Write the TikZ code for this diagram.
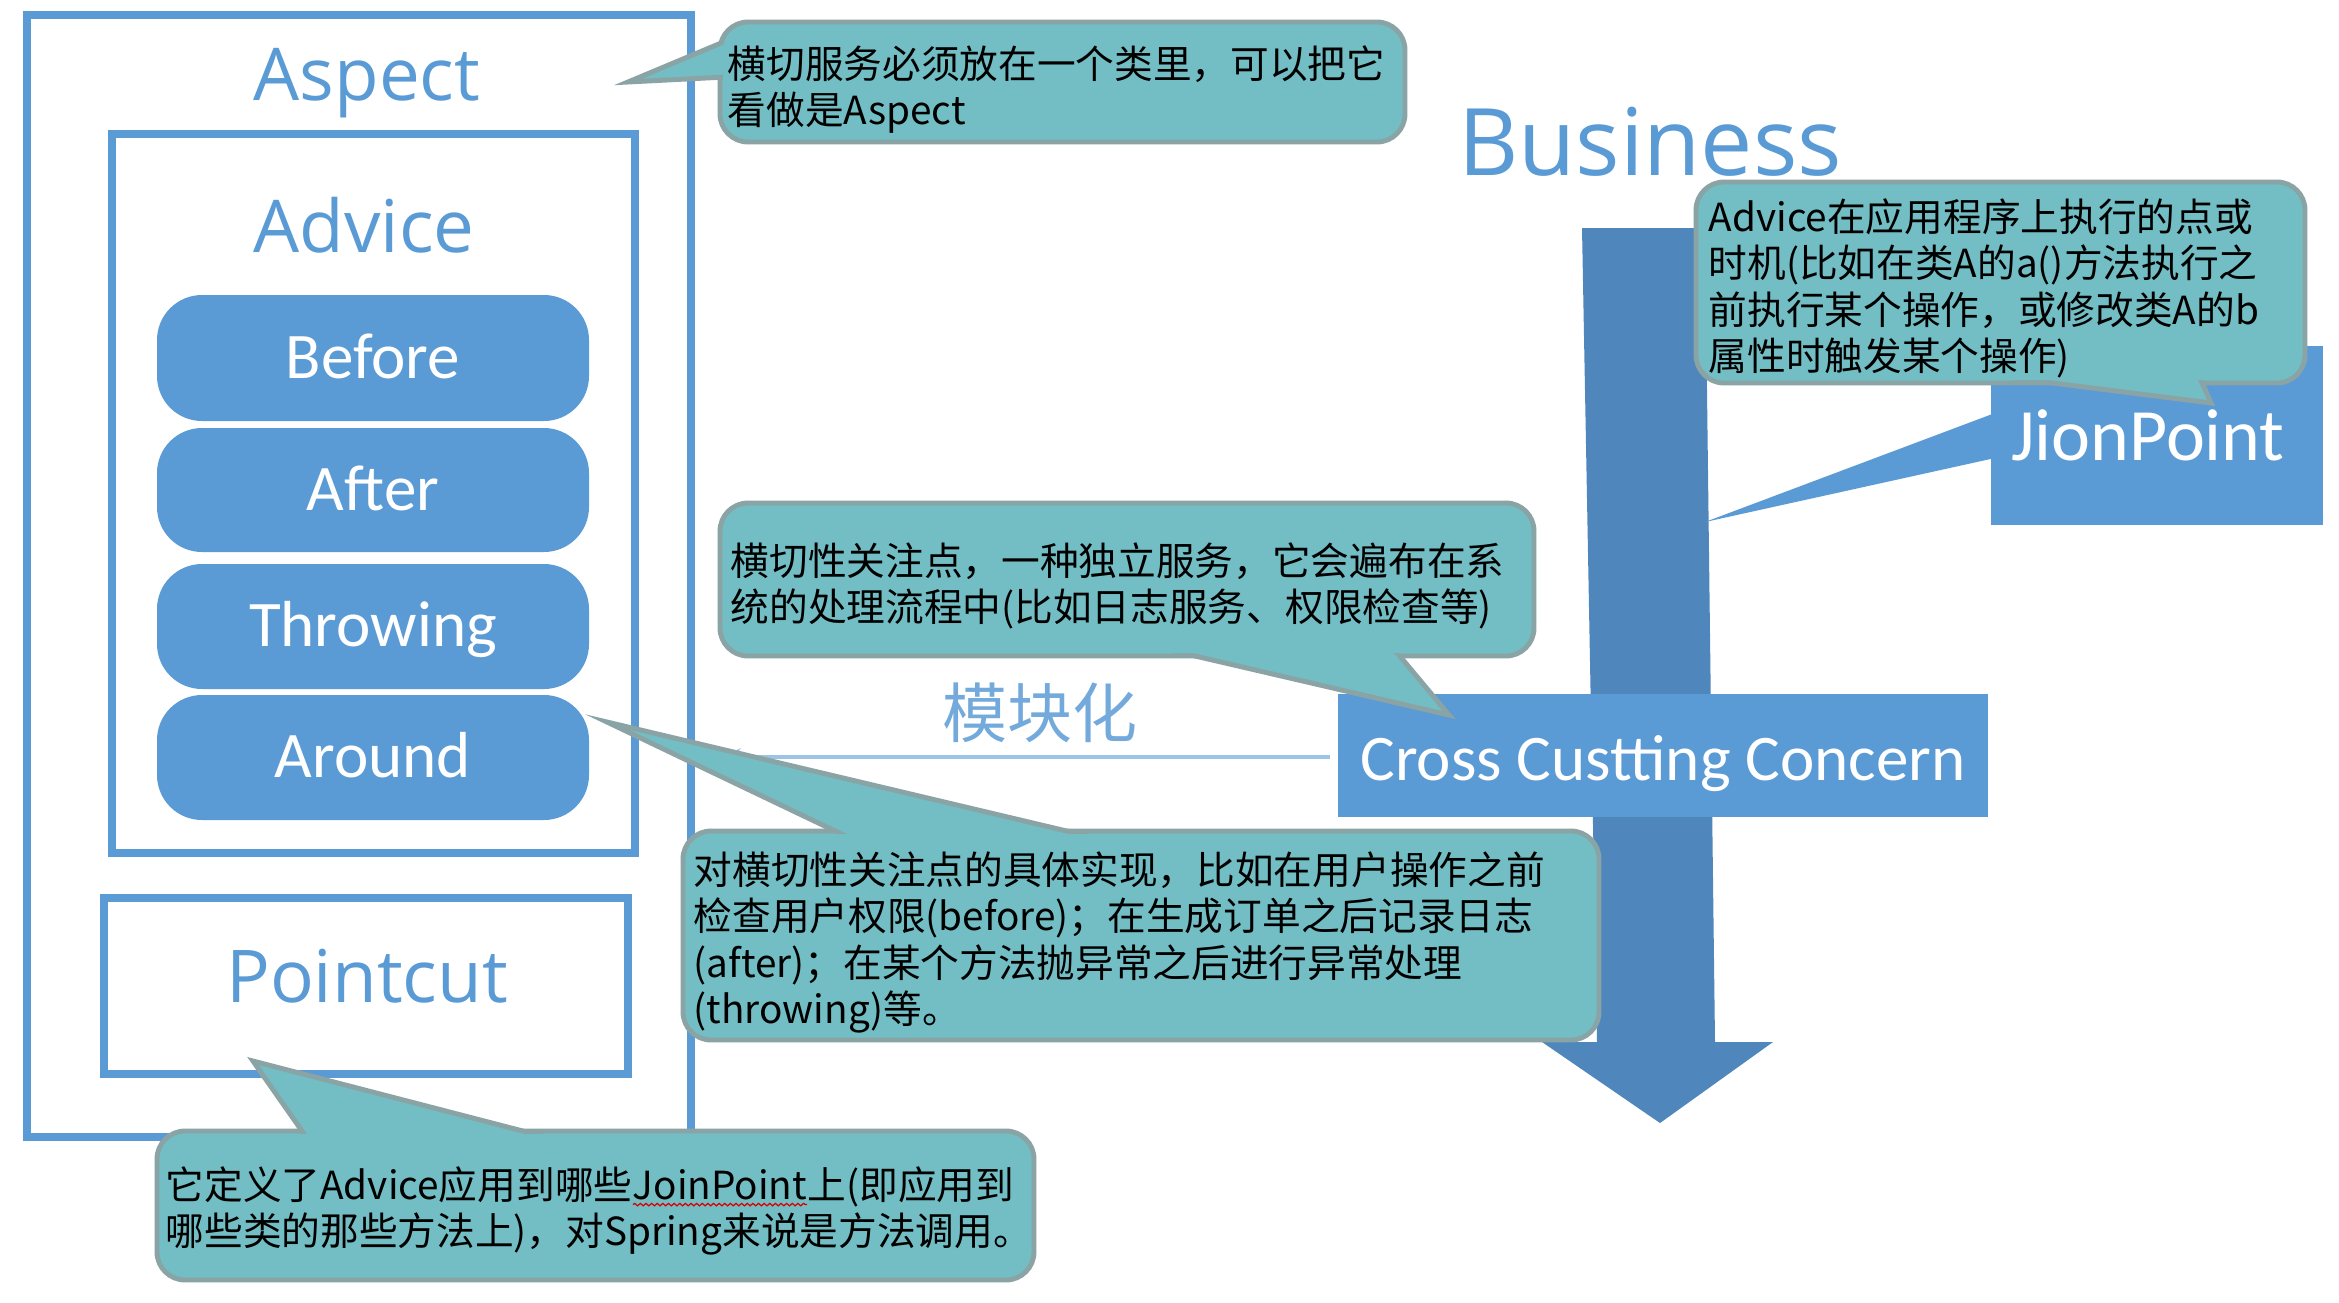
\documentclass[tikz,border=0pt]{standalone}
\usepackage{fontspec}
\setmainfont{Noto Sans CJK SC}
\newfontfamily\labfont{Carlito}
\newfontfamily\hdfont{Open Sans}
\usetikzlibrary{arrows.meta,decorations.pathmorphing}
\definecolor{bxblue}{RGB}{91,155,213}
\definecolor{arblue}{RGB}{79,135,189}
\definecolor{cofill}{RGB}{114,190,196}
\definecolor{codraw}{RGB}{138,164,166}
\definecolor{lnblue}{RGB}{157,195,230}
\newcommand\spellmark[1]{\tikz[baseline=(sw.base)]{\node[inner sep=0pt,outer sep=0pt](sw){#1};\draw[red!85!black,line width=0.35pt,decorate,decoration={snake,amplitude=0.35pt,segment length=1.6pt}]([yshift=-1.3pt]sw.south west)--([yshift=-1.3pt]sw.south east);}}
\begin{document}
\begin{tikzpicture}[x=0.01cm,y=-0.01cm,
  obox/.style={draw=bxblue, line width=2.3pt, fill=white},
  btn/.style={fill=bxblue, rounded corners=12.8pt},
  flatbox/.style={fill=bxblue},
  btntext/.style={text=white, font=\labfont\fontsize{18.5pt}{22pt}\selectfont, anchor=base, inner sep=0pt},
  hdtext/.style={text=bxblue, font=\hdfont\fontsize{20.7pt}{24pt}\selectfont, anchor=base, inner sep=0pt},
  cobody/.style={fill=cofill, draw=codraw, line width=1.4pt, rounded corners=8pt},
  coptr/.style={fill=cofill, draw=codraw, line width=1.4pt, line join=miter},
  cocover/.style={fill=cofill, rounded corners=7pt},
  cotext/.style={anchor=north west, inner sep=0pt, align=left, text=black, font=\fontsize{11pt}{13.2pt}\selectfont},
]
\fill[white] (0,0) rectangle (2339,1302);
\useasboundingbox (0,0) rectangle (2339,1302);

% ---------- Aspect column ----------
\path[obox] (27,15) rectangle (691,1137);
\node[hdtext] (aspect) at (367,100) {Aspect};
\path[obox] (112,134) rectangle (635,853);
\node[hdtext] (advice) at (364,252) {Advice};
\path[btn] (157,295) rectangle (589,421);
\node[btntext] (before) at (373,378) {Before};
\path[btn] (157,428) rectangle (589,552);
\node[btntext] (after) at (373,510) {After};
\path[btn] (157,564) rectangle (589,689);
\node[btntext] (throwing) at (373,646) {Throwing};
\path[btn] (157,695) rectangle (589,820);
\node[btntext] (around) at (373,777) {Around};
\path[obox] (104,898) rectangle (628,1074);
\node[hdtext] (pointcut) at (367,1002) {Pointcut};

% ---------- Business ----------
\node[hdtext, font=\hdfont\fontsize{26.5pt}{30pt}\selectfont] (business) at (1650,175) {Business};
\fill[arblue] (1582,228) -- (1705,228) -- (1715,1042) -- (1773,1042) -- (1660,1123) -- (1542,1042) -- (1597,1042) -- cycle;

\path[flatbox] (1338,694) rectangle (1988,817);
\node[btntext] (ccc) at (1663,780) {Cross Custting Concern};

\coordinate (jptip) at (1705,522);
\path[flatbox] (1991,346) rectangle (2323,525);
\fill[bxblue] (1995,413) -- (jptip) -- (1995,458) -- cycle;
\node[btntext, font=\labfont\fontsize{21pt}{25pt}\selectfont] (jp) at (2148,460) {JionPoint};

% ---------- modularisation line ----------
\coordinate (mleft) at (723,757);
\draw[lnblue, line width=1pt, -{Stealth[length=5pt,width=5pt]}] (ccc.west |- mleft) ++(-30,0) -- (mleft);
\node[font=\fontsize{18.5pt}{22pt}\selectfont, text=bxblue!85, inner sep=0pt] (mkh) at (1040,713) {模块化};

% ---------- callout 1 ----------
\path[cobody] (720,22) rectangle (1405,142);
\path[coptr] (745,33) -- (628,82) -- (745,76) -- cycle;
\path[cocover] (723,25) rectangle (1402,139);
\node[cotext] (t1) at (727,45) {横切服务必须放在一个类里，可以把它\\看做是Aspect};

% ---------- callout 2 ----------
\path[cobody] (1696,182) rectangle (2305,383);
\path[coptr] (1895,363) -- (2211,403) -- (2193,363) -- cycle;
\path[cocover] (1699,185) rectangle (2302,380);
\node[cotext] (t2) at (1708,198) {Advice在应用程序上执行的点或\\时机(比如在类A的a()方法执行之\\前执行某个操作，或修改类A的b\\属性时触发某个操作)};

% ---------- callout 3 ----------
\path[cobody] (720,503) rectangle (1534,656);
\path[coptr] (1109,636) -- (1449,715) -- (1383,636) -- cycle;
\path[cocover] (723,506) rectangle (1531,653);
\node[cotext] (t3) at (730,542) {横切性关注点，一种独立服务，它会遍布在系\\统的处理流程中(比如日志服务、权限检查等)};

% ---------- callout 4 ----------
\path[cobody] (683,831) rectangle (1599,1040);
\path[coptr] (877,851) -- (607,722) -- (1151,851) -- cycle;
\path[cocover] (686,834) rectangle (1596,1037);
\node[cotext] (t4) at (693,851) {对横切性关注点的具体实现，比如在用户操作之前\\检查用户权限(before)；在生成订单之后记录日志\\(after)；在某个方法抛异常之后进行异常处理\\(throwing)等。};

% ---------- callout 5 ----------
\path[cobody] (157,1131) rectangle (1034,1280);
\path[coptr] (316,1151) -- (253,1061) -- (600,1151) -- cycle;
\path[cocover] (160,1134) rectangle (1031,1277);
\node[cotext] (t5) at (165,1166) {它定义了Advice应用到哪些\spellmark{JoinPoint}上(即应用到\\哪些类的那些方法上)，对Spring来说是方法调用。};
\end{tikzpicture}
\end{document}
